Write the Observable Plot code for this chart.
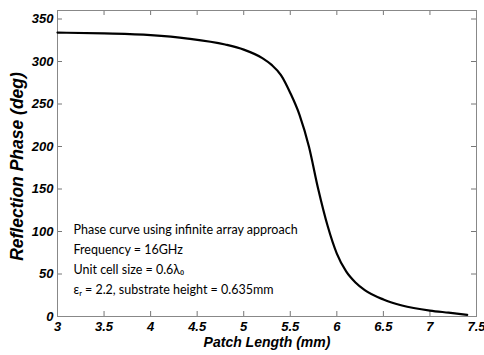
<!DOCTYPE html>
<html>
<head>
<meta charset="utf-8">
<script src="https://cdn.jsdelivr.net/npm/d3@7"></script>
<script src="https://cdn.jsdelivr.net/npm/@observablehq/plot@0.6"></script>
<style>
  html, body { margin: 0; padding: 0; background: #fff; }
</style>
</head>
<body>
<div id="chart"></div>
<script>
const patchLength = [3.0, 3.5, 4.0, 4.4, 4.8, 5.0, 5.2, 5.3, 5.4, 5.5, 5.6, 5.7, 5.8, 5.9, 6.0, 6.1, 6.2, 6.3, 6.5, 6.7, 7.0, 7.2, 7.4];
const reflectionPhase = [334, 333, 331, 327, 320, 314, 304, 296, 284, 263, 237, 200, 150, 107, 74, 53, 40, 31, 20, 13, 7, 4.5, 2];
const xTicks = [3, 3.5, 4, 4.5, 5, 5.5, 6, 6.5, 7, 7.5];
const yTicks = [0, 50, 100, 150, 200, 250, 300, 350];
const annotation = [
  "Phase curve using infinite array approach",
  "Frequency = 16GHz",
  "Unit cell size = 0.6λ\u2080",
  "ε\u1D63 = 2.2, substrate height = 0.635mm"
];
const xLabel = "Patch Length (mm)";
const yLabel = "Reflection Phase (deg)";

const data = patchLength.map((x, i) => ({x, y: reflectionPhase[i]}));

const W = 484, H = 355;
const mL = 57, mR = 8, mT = 10, mB = 39;
const fw = W - mL - mR, fh = H - mT - mB;
const tk = 5;
const bi = {fontWeight: "bold", fontStyle: "italic", fill: "#000"};

const chart = Plot.plot({
  width: W,
  height: H,
  marginLeft: mL,
  marginRight: mR,
  marginTop: mT,
  marginBottom: mB,
  style: {
    fontFamily: "'Liberation Sans', Arial, sans-serif",
    background: "#fff", color: "#000", overflow: "visible"
  },
  x: {domain: [3, 7.5], axis: null},
  y: {domain: [0, 360], axis: null},
  marks: [
    // inward ticks
    Plot.ruleX(xTicks.slice(1, -1), {x: d => d, stroke: "#777", insetTop: fh - tk}),
    Plot.ruleX(xTicks.slice(1, -1), {x: d => d, stroke: "#777", insetBottom: fh - tk}),
    Plot.ruleY(yTicks.slice(1), {y: d => d, stroke: "#777", insetRight: fw - tk}),
    Plot.ruleY(yTicks.slice(1), {y: d => d, stroke: "#777", insetLeft: fw - tk}),
    Plot.frame({stroke: "#888"}),
    // tick labels
    Plot.text(xTicks, {
      x: d => d, frameAnchor: "bottom", lineAnchor: "top", dy: 5,
      text: d => String(d), fontSize: 13, ...bi
    }),
    Plot.text(yTicks, {
      y: d => d, frameAnchor: "left", textAnchor: "end", dx: -4,
      text: d => String(d), fontSize: 13, ...bi
    }),
    Plot.text([xLabel], {
      frameAnchor: "bottom", dy: 30, text: d => d, fontSize: 14, ...bi
    }),
    Plot.text([yLabel], {
      frameAnchor: "left", textAnchor: "middle", dx: -40, dy: 3, rotate: -90, text: d => d,
      fontSize: 17.5, ...bi
    }),
    Plot.text([annotation.join("\n")], {
      frameAnchor: "bottom-left", textAnchor: "start", lineAnchor: "bottom",
      dx: 16, dy: -23, lineHeight: 1.6, text: d => d,
      fontSize: 12.5, fontFamily: "Lato, 'Open Sans', sans-serif",
      fontWeight: "normal", fontStyle: "normal", fill: "#000"
    }),
    Plot.line(data, {x: "x", y: "y", stroke: "#000", strokeWidth: 2.2, curve: "monotone-x"})
  ]
});
document.getElementById("chart").appendChild(chart);
</script>
</body>
</html>
